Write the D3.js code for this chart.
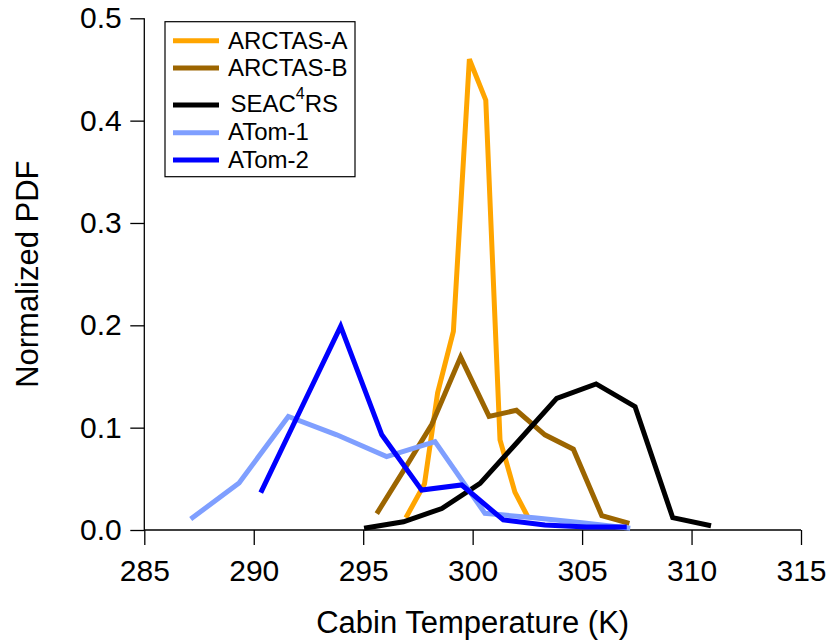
<!DOCTYPE html>
<html>
<head>
<meta charset="utf-8">
<script src="https://cdn.jsdelivr.net/npm/d3@7"></script>
<style>
  body { margin: 0; background: #fff; }
  svg { display: block; font-family: "Liberation Sans", Arial, sans-serif; }
</style>
</head>
<body>
<svg id="chart" width="830" height="640"></svg>
<script>
// ---- data ----
const seriesNames = ["ARCTAS-A", "ARCTAS-B", "SEAC4RS", "ATom-1", "ATom-2"];
const seriesColors = ["#FFA500", "#9C6500", "#000000", "#7F9FFF", "#0000FF"];

const arctasA_T = [296.95, 297.8, 298.4, 299.12, 299.85, 300.6, 301.25, 301.93, 302.54];
const arctasA_V = [0.012, 0.045, 0.134, 0.194, 0.460, 0.420, 0.088, 0.037, 0.012];

const arctasB_T = [295.62, 296.9, 298.13, 299.45, 300.75, 302.0, 303.3, 304.6, 305.9, 307.16];
const arctasB_V = [0.016, 0.060, 0.103, 0.169, 0.111, 0.117, 0.093, 0.079, 0.014, 0.0065];

const seac_T = [295.04, 296.84, 298.59, 300.34, 302.05, 303.84, 305.64, 307.42, 309.14, 310.89];
const seac_V = [0.0017, 0.008, 0.021, 0.0456, 0.086, 0.1287, 0.1427, 0.1205, 0.012, 0.0042];

const atom1_T = [287.12, 289.33, 291.58, 293.79, 296.07, 298.28, 300.56, 302.8, 305.0, 307.2];
const atom1_V = [0.0107, 0.046, 0.111, 0.093, 0.0717, 0.0863, 0.0163, 0.012, 0.007, 0.0017];

const atom2_T = [290.32, 292.15, 293.97, 295.85, 297.67, 299.5, 301.4, 303.3, 305.2, 307.04];
const atom2_V = [0.0365, 0.118, 0.199, 0.093, 0.039, 0.044, 0.0098, 0.005, 0.003, 0.003];

const xTicks = [285, 290, 295, 300, 305, 310, 315];
const yTicks = [0.0, 0.1, 0.2, 0.3, 0.4, 0.5];

const seriesT = [arctasA_T, arctasB_T, seac_T, atom1_T, atom2_T];
const seriesV = [arctasA_V, arctasB_V, seac_V, atom1_V, atom2_V];

// ---- layout ----
const svg = d3.select("#chart");
const plot = { left: 144.3, right: 801, top: 18.3, bottom: 530 };

const x = d3.scaleLinear().domain([285, 315]).range([plot.left, plot.right]);
const y = d3.scaleLinear().domain([0, 0.5]).range([plot.bottom, plot.top]);

// axes
const xAxis = svg.append("g")
  .attr("transform", `translate(0,${plot.bottom})`)
  .call(d3.axisBottom(x).tickValues(xTicks).tickSize(15).tickPadding(15).tickFormat(d3.format("d")));
const yAxis = svg.append("g")
  .attr("transform", `translate(${plot.left},0)`)
  .call(d3.axisLeft(y).tickValues(yTicks).tickSize(14).tickPadding(8.5).tickFormat(d3.format(".1f")));

[xAxis, yAxis].forEach(g => {
  g.select(".domain").attr("stroke", "#000").attr("stroke-width", 1.3);
  g.selectAll(".tick line").attr("stroke", "#000").attr("stroke-width", 1.3);
  g.selectAll(".tick text").attr("fill", "#000").style("font-size", "30px")
    .style("font-family", '"Liberation Sans", Arial, sans-serif');
});
// remove outer tick stubs from domain path: redraw domain as simple lines
xAxis.select(".domain").attr("d", `M${plot.left},0H${plot.right}`);
yAxis.select(".domain").attr("d", `M0,${plot.top}V${plot.bottom}`);

// axis titles
svg.append("text")
  .attr("x", (plot.left + plot.right) / 2).attr("y", 633)
  .attr("text-anchor", "middle").style("font-size", "31px")
  .text("Cabin Temperature (K)");
svg.append("text")
  .attr("transform", `translate(38,${(plot.top + plot.bottom) / 2}) rotate(-90)`)
  .attr("text-anchor", "middle").style("font-size", "31px")
  .text("Normalized PDF");

// lines
const line = d3.line().x(d => x(d[0])).y(d => y(d[1]));
seriesNames.forEach((name, i) => {
  const pts = seriesT[i].map((t, j) => [t, seriesV[i][j]]);
  svg.append("path")
    .datum(pts)
    .attr("fill", "none")
    .attr("stroke", seriesColors[i])
    .attr("stroke-width", 5)
    .attr("stroke-linejoin", "miter")
    .attr("d", line);
});

// legend
const legend = svg.append("g");
legend.append("rect")
  .attr("x", 165).attr("y", 21.7).attr("width", 190).attr("height", 155)
  .attr("fill", "#fff").attr("stroke", "#000").attr("stroke-width", 1.2);
const legLineY = [40.7, 68, 105, 132.7, 160];
const legTextY = [48.5, 76, 112, 140, 168];
seriesNames.forEach((name, i) => {
  legend.append("line")
    .attr("x1", 173).attr("x2", 219)
    .attr("y1", legLineY[i]).attr("y2", legLineY[i])
    .attr("stroke", seriesColors[i]).attr("stroke-width", 5);
  const t = legend.append("text")
    .attr("x", i === 2 ? 230.5 : 228).attr("y", legTextY[i])
    .style("font-size", "24px");
  if (name === "SEAC4RS") {
    t.append("tspan").text("SEAC");
    t.append("tspan").attr("dy", -13).style("font-size", "16px").text("4");
    t.append("tspan").attr("dy", 13).text("RS");
  } else {
    t.text(name);
  }
});
</script>
</body>
</html>
